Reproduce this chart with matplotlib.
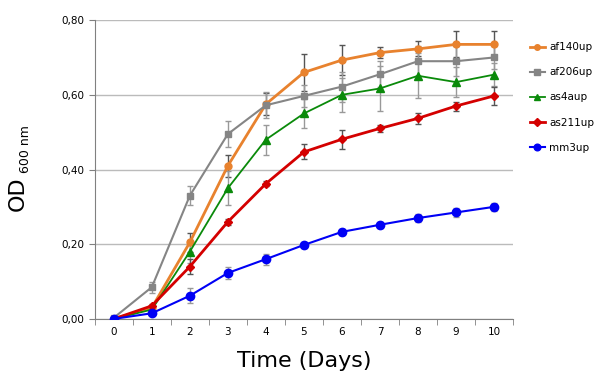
import matplotlib.pyplot as plt
from matplotlib.lines import Line2D
from matplotlib.ticker import FixedLocator, FuncFormatter

days = list(range(11))

af140up = [0.000, 0.030, 0.205, 0.410, 0.575, 0.660, 0.693, 0.713, 0.723, 0.735, 0.735]
af140up_err = [0.004, 0.005, 0.025, 0.030, 0.030, 0.050, 0.040, 0.015, 0.020, 0.035, 0.035]

af206up = [0.003, 0.085, 0.330, 0.495, 0.572, 0.597, 0.622, 0.655, 0.690, 0.690, 0.700]
af206up_err = [0.005, 0.015, 0.025, 0.035, 0.035, 0.030, 0.040, 0.035, 0.040, 0.040, 0.030]

as4aup = [0.000, 0.025, 0.180, 0.350, 0.480, 0.550, 0.600, 0.617, 0.651, 0.634, 0.654]
as4aup_err = [0.003, 0.005, 0.030, 0.045, 0.040, 0.040, 0.045, 0.060, 0.060, 0.040, 0.030]

as211up = [0.000, 0.035, 0.140, 0.260, 0.362, 0.447, 0.481, 0.510, 0.537, 0.570, 0.597]
as211up_err = [0.003, 0.005, 0.020, 0.008, 0.007, 0.020, 0.025, 0.010, 0.015, 0.012, 0.025]

mm3up = [0.000, 0.015, 0.062, 0.123, 0.160, 0.198, 0.233, 0.252, 0.270, 0.285, 0.300]
mm3up_err = [0.003, 0.005, 0.020, 0.015, 0.015, 0.008, 0.008, 0.008, 0.010, 0.012, 0.010]

series = [
    ("af140up", af140up, af140up_err, "#E8822E", "o", 5, 2.0, "#555555"),
    ("af206up", af206up, af206up_err, "#858585", "s", 5, 1.5, "#999999"),
    ("as4aup", as4aup, as4aup_err, "#0A8A0A", "^", 6, 1.3, "#999999"),
    ("as211up", as211up, as211up_err, "#D40000", "D", 4.5, 2.0, "#555555"),
    ("mm3up", mm3up, mm3up_err, "#0000F5", "o", 6, 1.5, "#999999"),
]

fig = plt.figure(figsize=(6, 3.87), dpi=100)
ax = fig.add_axes([0.158, 0.176, 0.697, 0.772])

handles = []
for name, vals, err, color, marker, ms, lw, ecol in series:
    ax.errorbar(days, vals, yerr=err, color=color, marker=marker, markersize=ms,
                linewidth=lw, ecolor=ecol, elinewidth=1, capsize=2, capthick=1, zorder=3)
    handles.append(Line2D([], [], color=color, marker=marker, markersize=ms * 0.8,
                          linewidth=lw, label=name))

ax.set_xlim(-0.5, 10.5)
ax.set_ylim(0, 0.8)
ax.set_xticks(days)
ax.set_xticklabels([str(d) for d in days], fontsize=7.5)
ax.xaxis.set_minor_locator(FixedLocator([d - 0.5 for d in range(12)]))
ax.tick_params(axis="x", which="major", length=0, pad=6)
ax.tick_params(axis="x", which="minor", length=4, color="#808080")
ax.set_yticks([0, 0.2, 0.4, 0.6, 0.8])
ax.yaxis.set_major_formatter(FuncFormatter(lambda v, p: f"{v:.2f}".replace(".", ",")))
ax.tick_params(axis="y", length=4, color="#808080", labelsize=7.5)
ax.yaxis.grid(True, color="#BBBBBB", linewidth=1)
ax.set_axisbelow(True)
for s in ["top", "right"]:
    ax.spines[s].set_visible(False)
for s in ["left", "bottom"]:
    ax.spines[s].set_color("#808080")

ax.set_xlabel("Time (Days)", fontsize=16, labelpad=10)
fig.text(0.03, 0.50, "OD", rotation=90, fontsize=16, ha="center", va="center")
fig.text(0.043, 0.615, "600 nm", rotation=90, fontsize=9, ha="center", va="center")

fig.legend(handles=handles, loc="upper left", bbox_to_anchor=(0.868, 0.915), frameon=False,
           fontsize=7.5, handlelength=1.4, labelspacing=1.45, handletextpad=0.4)

fig.savefig("out.png", dpi=100)
plt.close(fig)
